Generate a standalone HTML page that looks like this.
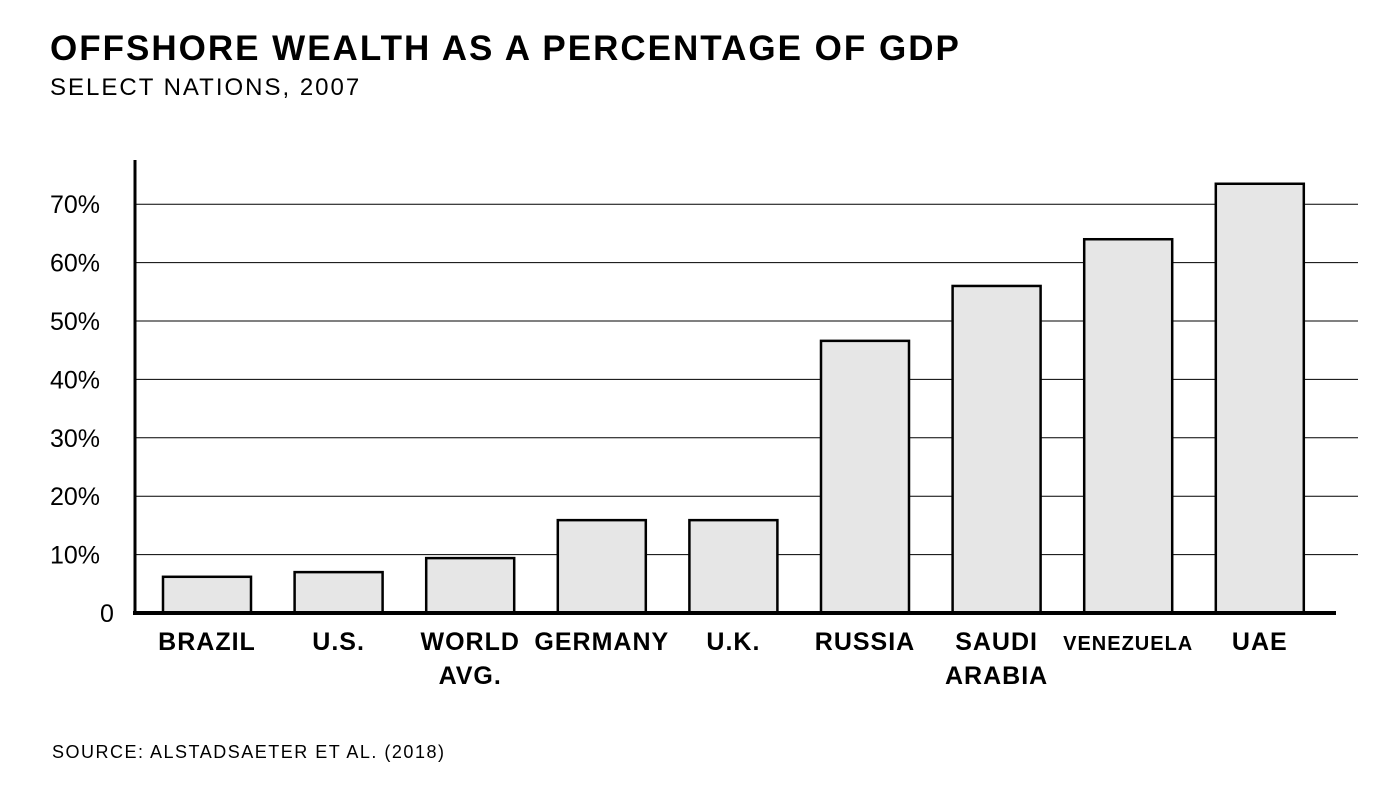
<!DOCTYPE html>
<html><head><meta charset="utf-8"><style>
body{margin:0;background:#fff;font-family:"Liberation Sans",sans-serif;}
svg text{font-family:"Liberation Sans",sans-serif;fill:#000;}
</style></head><body>
<svg width="1400" height="789" viewBox="0 0 1400 789">
<text x="50" y="60" font-size="35" font-weight="bold" letter-spacing="2">OFFSHORE WEALTH AS A PERCENTAGE OF GDP</text>
<text x="50" y="95" font-size="24" letter-spacing="2">SELECT NATIONS, 2007</text>
<text x="52" y="758" font-size="18" letter-spacing="1.5">SOURCE: ALSTADSAETER ET AL. (2018)</text>
<g id="grid"></g><g id="bars"></g><g id="axes"></g>
</svg>
<script>
const categories=[["BRAZIL"],["U.S."],["WORLD","AVG."],["GERMANY"],["U.K."],["RUSSIA"],["SAUDI","ARABIA"],["VENEZUELA"],["UAE"]];
const values=[6.2,7.0,9.4,15.9,15.9,46.6,56.0,64.0,73.5];
const ticks=[0,10,20,30,40,50,60,70];
const tickLabels=["0","10%","20%","30%","40%","50%","60%","70%"];
const NS="http://www.w3.org/2000/svg";
const y=v=>613-v*5.84;
const xc=i=>207+i*131.6;
const bw=88;
function mk(t,a,p){const e=document.createElementNS(NS,t);for(const k in a)e.setAttribute(k,a[k]);p.appendChild(e);return e;}
const grid=document.getElementById('grid'),bars=document.getElementById('bars'),axes=document.getElementById('axes');
ticks.forEach((t,i)=>{
 if(t>0){const l=mk('line',{x1:135,x2:1358,y1:y(t),y2:y(t),stroke:'#000','stroke-width':1},grid);
 
 }
 const tx=mk('text',{x:t===0?100:50,y:y(t)+9,'font-size':25},axes);tx.textContent=tickLabels[i];
 
 
});
values.forEach((v,i)=>{
 const r=mk('rect',{x:xc(i)-bw/2,y:y(v),width:bw,height:613-y(v),fill:'#e6e6e6',stroke:'#000','stroke-width':2.5},bars);
 
 
 categories[i].forEach((s,j)=>{
  const tx=mk('text',{x:xc(i),y:650+j*34,'font-size':s.length>8?20:25,'text-anchor':'middle','font-weight':'bold','letter-spacing':1},axes);
  tx.textContent=s;
  
  
 });
});
const ya=mk('line',{x1:135,x2:135,y1:160,y2:615,stroke:'#000','stroke-width':3},axes);


const xa=mk('line',{x1:133,x2:1336,y1:613,y2:613,stroke:'#000','stroke-width':4},axes);


</script>
</body></html>
